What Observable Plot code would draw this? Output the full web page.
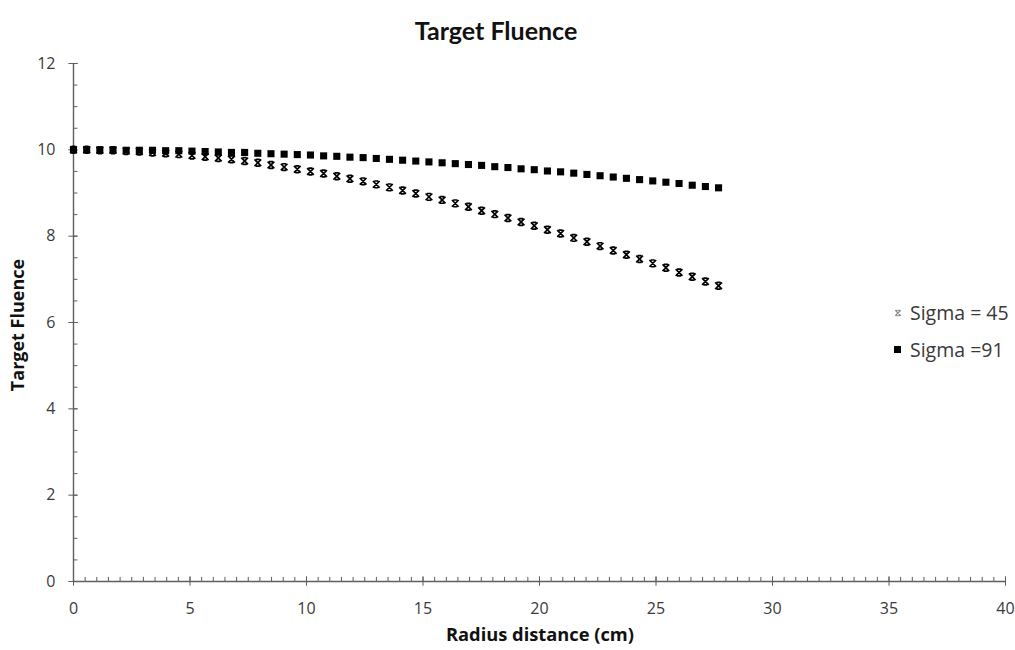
<!DOCTYPE html>
<html><head><meta charset="utf-8">
<script src="https://cdn.jsdelivr.net/npm/d3@7"></script>
<script src="https://cdn.jsdelivr.net/npm/@observablehq/plot@0.6"></script>
<style>body{margin:0;background:#fff;} svg{display:block;}</style>
</head><body><div id="chart"></div>
<script>
// ---- data ----
const radius = [0, 0.565, 1.13, 1.695, 2.26, 2.825, 3.39, 3.955, 4.52, 5.085, 5.65, 6.215, 6.78, 7.345, 7.91, 8.475, 9.04, 9.605, 10.17, 10.735, 11.3, 11.865, 12.43, 12.995, 13.56, 14.125, 14.69, 15.255, 15.82, 16.385, 16.95, 17.515, 18.08, 18.645, 19.21, 19.775, 20.34, 20.905, 21.47, 22.035, 22.6, 23.165, 23.73, 24.295, 24.86, 25.425, 25.99, 26.555, 27.12, 27.685];
const sigma45 = [10.00, 10.00, 9.99, 9.99, 9.97, 9.96, 9.94, 9.92, 9.90, 9.87, 9.84, 9.81, 9.78, 9.74, 9.70, 9.65, 9.60, 9.55, 9.50, 9.45, 9.39, 9.33, 9.27, 9.20, 9.13, 9.06, 8.99, 8.91, 8.84, 8.76, 8.68, 8.59, 8.51, 8.42, 8.33, 8.24, 8.15, 8.06, 7.96, 7.87, 7.77, 7.67, 7.57, 7.47, 7.37, 7.27, 7.16, 7.06, 6.95, 6.85];
const sigma91 = [10.00, 10.00, 10.00, 10.00, 9.99, 9.99, 9.99, 9.98, 9.98, 9.97, 9.96, 9.95, 9.94, 9.94, 9.92, 9.91, 9.90, 9.89, 9.88, 9.86, 9.85, 9.83, 9.82, 9.80, 9.78, 9.76, 9.74, 9.72, 9.70, 9.68, 9.66, 9.64, 9.61, 9.59, 9.56, 9.54, 9.51, 9.49, 9.46, 9.43, 9.40, 9.37, 9.34, 9.31, 9.28, 9.25, 9.22, 9.18, 9.15, 9.12];
const seriesNames = ["Sigma = 45", "Sigma =91"];
const xMajor = [0, 5, 10, 15, 20, 25, 30, 35, 40];
const yMajor = [0, 2, 4, 6, 8, 10, 12];
const xMinor = d3.range(0, 40.001, 0.5);
const yMinor = d3.range(0, 12.001, 0.5);
const titleText = "Target Fluence";
const xTitle = "Radius distance (cm)";
const yTitle = "Target Fluence";

const rows45 = radius.map((r, i) => ({r, v: sigma45[i]}));
const rows91 = radius.map((r, i) => ({r, v: sigma91[i]}));

// "x" marker with short top/bottom caps, as in the reference
const capX = {draw(ctx, size) {
  const s = Math.sqrt(size) / 2;
  ctx.moveTo(-s, -s); ctx.lineTo(s, s);
  ctx.moveTo(s, -s); ctx.lineTo(-s, s);
  ctx.moveTo(-s * 0.6, -s); ctx.lineTo(s * 0.6, -s);
  ctx.moveTo(-s * 0.6, s); ctx.lineTo(s * 0.6, s);
}};

const axisColor = "#5f5f5f";
const font = "'Open Sans', Lato, sans-serif";
const titleFont = "Lato, 'Open Sans', sans-serif";
const plot = Plot.plot({
  width: 1015, height: 650,
  marginLeft: 73, marginRight: 10, marginTop: 63, marginBottom: 69,
  x: {domain: [0, 40]},
  y: {domain: [0, 12]},
  style: {fontFamily: font, fontSize: "16px", color: "#3a3a3a", background: "#fff"},
  marks: [
    Plot.ruleX(xMinor, {y1: 0, y2: 0.095, stroke: axisColor}),
    Plot.ruleX(xMajor, {y1: -0.11, y2: 0.11, stroke: axisColor}),
    Plot.ruleY(yMinor, {x1: 0, x2: 0.19, stroke: axisColor}),
    Plot.ruleY(yMajor, {x1: -0.2, x2: 0.2, stroke: axisColor}),
    Plot.ruleY([0], {stroke: axisColor, strokeWidth: 1.4}),
    Plot.ruleX([0], {stroke: axisColor, strokeWidth: 1.4}),
    Plot.axisX({ticks: xMajor, tickSize: 0, tickPadding: 21, label: null}),
    Plot.axisY({ticks: yMajor, tickSize: 0, tickPadding: 18, label: null}),
    Plot.dot(rows91, {x: "r", y: "v", symbol: "square", r: 4, fill: "#000", stroke: "none"}),
    Plot.dot(rows45, {x: "r", y: "v", symbol: capX, r: 3.8, stroke: "#000", strokeWidth: 1.7, fill: "none"})
  ]
});
document.getElementById("chart").append(plot);

const svg = d3.select(plot);
svg.append("text").attr("x", 496).attr("y", 40).attr("text-anchor", "middle")
  .attr("font-family", titleFont).attr("font-weight", "bold").attr("font-size", 25).attr("fill", "#111").text(titleText);
svg.append("text").attr("x", 540).attr("y", 641).attr("text-anchor", "middle")
  .attr("font-family", font).attr("font-weight", "bold").attr("font-size", 18.3).attr("fill", "#111").text(xTitle);
svg.append("text").attr("transform", "translate(24,325) rotate(-90)").attr("text-anchor", "middle")
  .attr("font-family", font).attr("font-weight", "bold").attr("font-size", 18).attr("fill", "#111").text(yTitle);

// legend
const lg = svg.append("g");
const sym45 = d3.symbol(capX, 30)();
lg.append("path").attr("d", sym45).attr("transform", "translate(898,313)").attr("stroke", "#8a8a8a").attr("stroke-width", 1.2).attr("fill", "none");
lg.append("rect").attr("x", 894).attr("y", 346).attr("width", 7).attr("height", 7).attr("fill", "#000");
lg.append("text").attr("x", 910).attr("y", 320).attr("text-anchor", "start").attr("font-family", font).attr("font-size", 19.5).attr("fill", "#3a3a3a").text(seriesNames[0]);
lg.append("text").attr("x", 910).attr("y", 357).attr("text-anchor", "start").attr("font-family", font).attr("font-size", 19.5).attr("fill", "#3a3a3a").text(seriesNames[1]);
</script>
</body></html>
